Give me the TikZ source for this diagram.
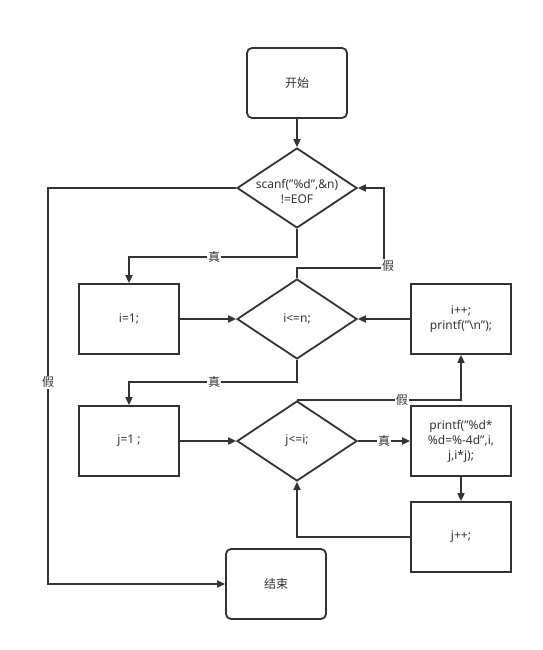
\documentclass[tikz,border=0pt]{standalone}
\usepackage{fontspec}
\setmainfont{Noto Sans}
\newfontfamily\cjk{Noto Sans CJK SC}
\usetikzlibrary{arrows.meta,shapes.geometric}
\begin{document}
\begin{tikzpicture}[x=1pt,y=-1pt,
  line width=1.8pt, draw={rgb,255:red,51;green,51;blue,51},
  every node/.style={font=\fontsize{12}{15}\selectfont, text={rgb,255:red,51;green,51;blue,51}},
  box/.style={draw, minimum width=100pt, minimum height=70pt, align=center, inner sep=0pt},
  rbox/.style={box, rounded corners=5pt},
  dia/.style={draw, diamond, aspect=1.5, minimum width=120pt, minimum height=80pt, inner sep=0pt, align=center},
  arr/.style={-{Triangle[length=8pt,width=7pt]}},
  lbl/.style={fill=white, inner sep=1pt, font=\fontsize{12}{15}\selectfont\cjk}]
\useasboundingbox (0,0) rectangle (543,650);
\node[rbox, font=\fontsize{12}{15}\selectfont\cjk] (start) at (297,83) {开始};
\node[dia] (d1) at (297,188) {};
\node at (297,191) [align=center] {scanf("\%d",\&n)\\!=EOF};
\node[box] (i1) at (129,319) {i=1;};
\node[dia] (d2) at (297,319) {i<=n;};
\node[box] (inc) at (461,319) {i++;\\printf("\textbackslash n");};
\node[box] (j1) at (129,441) {j=1 ;};
\node[dia] (d3) at (297,441) {j<=i;};
\node[box] (pr) at (461,441) {printf("\%d*\\\%d=\%-4d",i,\\j,i*j);};
\node[box] (jinc) at (461,537) {j++;};
\node[rbox, font=\fontsize{12}{15}\selectfont\cjk] (end) at (276,584) {结束};

\draw[arr] (start) -- (d1);
\draw[arr] (d1.south) |- (214,257) node[lbl] {真} -| (i1.north);
\draw[arr] (d1.west) -- (48,188) |- (end.west);
\node[lbl] at (48,382) {假};
\draw[arr] (d2.north) |- (384,268) |- (d1.east);
\node[lbl] at (388,266) {假};
\draw[arr] (i1) -- (d2);
\draw[arr] (d2.south) |- (214,382) node[lbl] {真} -| (j1.north);
\draw[arr] (inc) -- (d2);
\draw[arr] (j1) -- (d3);
\draw[arr] (d3.north) -- node[lbl, pos=0.64] {假} (d3.north -| inc.south) -- (inc.south);
\draw[arr] (d3) -- node[lbl] {真} (pr);
\draw[arr] (pr) -- (jinc);
\draw[arr] (jinc.west) -| (d3.south);
\end{tikzpicture}
\end{document}
